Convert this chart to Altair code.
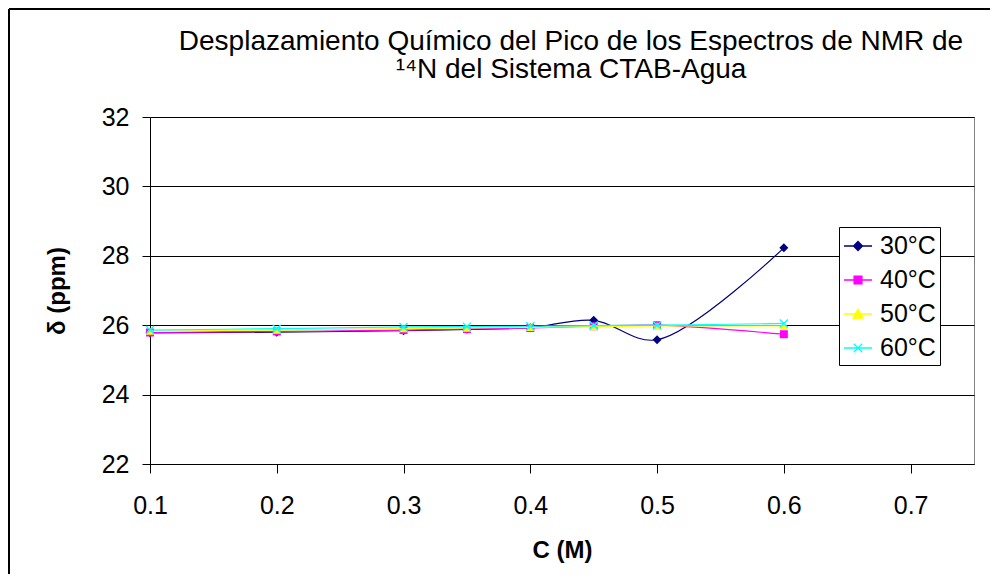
import altair as alt
import pandas as pd

series = ["30°C", "40°C", "50°C", "60°C"]
conc = [0.1, 0.2, 0.3, 0.35, 0.4, 0.45, 0.5, 0.6]
d30 = [25.78, 25.80, 25.84, 25.88, 25.93, 26.14, 25.58, 28.23]
d40 = [25.79, 25.82, 25.86, 25.89, 25.92, 25.97, 26.00, 25.74]
d50 = [25.83, 25.86, 25.90, 25.92, 25.94, 25.96, 25.98, 25.98]
d60 = [25.86, 25.90, 25.95, 25.96, 25.97, 25.99, 26.00, 26.05]
x_ticks = [0.1, 0.2, 0.3, 0.4, 0.5, 0.6, 0.7]
y_ticks = [22, 24, 26, 28, 30, 32]
colors = ["#000080", "#FF00FF", "#FFFF00", "#00FFFF"]
title_lines = ["Desplazamiento Químico del Pico de los Espectros de NMR de",
               "¹⁴N del Sistema CTAB-Agua"]

rows = []
for s, vals in zip(series, [d30, d40, d50, d60]):
    for c, v in zip(conc, vals):
        rows.append({"serie": s, "C": c, "delta": v})
df = pd.DataFrame(rows)

FONT = "Liberation Sans"
W, H = 824, 347

xenc = alt.X("C:Q", scale=alt.Scale(domain=[0.1, 0.75], nice=False, zero=False),
             axis=alt.Axis(values=x_ticks, format=".1f", title="C (M)", grid=False,
                           tickSize=9, labelPadding=20, titlePadding=20, labelFlush=False))
yenc = alt.Y("delta:Q", scale=alt.Scale(domain=[22, 32], nice=False, zero=False),
             axis=alt.Axis(values=y_ticks, title="δ (ppm)", grid=True, tickSize=8,
                           labelPadding=13, titleX=-93, titleBaseline="middle"))

base = alt.Chart(df)

shapes = ["diamond", "square", "triangle-up", "M-1,-1L1,1M-1,1L1,-1"]
sizes = [81, 64, 72, 64]
series_layers = []
for s, col, shp, sz in zip(series, colors, shapes, sizes):
    sub = base.transform_filter(alt.datum.serie == s)
    ln = sub.mark_line(strokeWidth=1.2, interpolate="catmull-rom", color=col).encode(
        x=xenc, y=yenc)
    if s != "60°C":
        pt = sub.mark_point(shape=shp, size=sz, filled=True, color=col, opacity=1)
    else:
        pt = sub.mark_point(shape=shp, size=sz, filled=False, color=col,
                            strokeWidth=1.3, opacity=1)
    series_layers += [ln, pt.encode(x=xenc, y=yenc)]

legend_paths = [
    "M-1,0L1,0M0,-0.32L0.32,0L0,0.32L-0.32,0Z",
    "M-1,0L1,0M-0.28,-0.28L0.28,-0.28L0.28,0.28L-0.28,0.28Z",
    "M-1,0L1,0M0,-0.34L0.36,0.3L-0.36,0.3Z",
    "M-1,0L1,0M-0.3,-0.3L0.3,0.3M-0.3,0.3L0.3,-0.3",
]
leg = alt.Legend(title=None, orient="none", legendX=689, legendY=110,
                 fillColor="white", strokeColor="black", padding=4,
                 symbolSize=784, symbolStrokeWidth=1.3, symbolOpacity=1,
                 labelFont=FONT, labelFontSize=25, labelColor="black",
                 labelOffset=7, rowPadding=6)

legend_layer = base.transform_filter("false").mark_point(
    filled=True, opacity=1, strokeWidth=1.3).encode(
    x=xenc, y=yenc,
    color=alt.Color("serie:N", scale=alt.Scale(domain=series, range=colors), legend=leg),
    stroke=alt.Stroke("serie:N", scale=alt.Scale(domain=series, range=colors), legend=leg),
    shape=alt.Shape("serie:N", scale=alt.Scale(domain=series, range=legend_paths), legend=leg),
)

one = pd.DataFrame({"k": [0]})
border_top = alt.Chart(one).mark_rule(color="black", strokeWidth=2).encode(
    x=alt.value(-141), x2=alt.value(840), y=alt.value(-108))
border_left = alt.Chart(one).mark_rule(color="black", strokeWidth=2).encode(
    x=alt.value(-141), y=alt.value(-108), y2=alt.value(457))
title_text = alt.Chart(one).mark_text(
    text=title_lines, font=FONT, fontSize=28, color="black", align="center",
    baseline="alphabetic", lineHeight=28).encode(
    x=alt.value(421), y=alt.value(-67))

chart = alt.layer(*series_layers, legend_layer, border_top, border_left,
                  title_text).properties(
    width=W, height=H, padding=0, background="white",
).configure_view(stroke="#808080", strokeWidth=1).configure_axis(
    labelFont=FONT, labelFontSize=25, labelColor="black",
    titleFont=FONT, titleFontSize=24, titleFontWeight="bold", titleColor="black",
    domainColor="black", tickColor="black", gridColor="black", gridWidth=1,
    gridOpacity=1,
)

chart.save("out.html", embed_options={"renderer": "svg", "actions": False})
